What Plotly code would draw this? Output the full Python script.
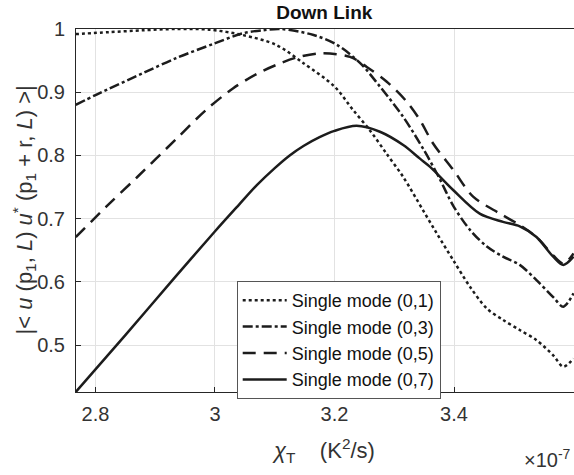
import plotly.graph_objects as go

# ---- data (x in units of 1e-7 K^2/s) ----
x01 = [2.767, 2.823, 2.88, 2.935, 2.99, 3.046, 3.102, 3.148, 3.2, 3.231, 3.259, 3.287, 3.315, 3.349,
       3.371, 3.399, 3.427, 3.455, 3.482, 3.510, 3.538, 3.566, 3.583, 3.600]
y01 = [0.992, 0.995, 0.998, 1.0, 0.999, 0.9905, 0.975, 0.946, 0.909, 0.872, 0.840, 0.803, 0.766, 0.712,
       0.677, 0.634, 0.592, 0.558, 0.540, 0.524, 0.508, 0.484, 0.466, 0.479]

x03 = [2.767, 2.801, 2.879, 2.935, 2.999, 3.046, 3.080, 3.11, 3.165, 3.204, 3.243, 3.276, 3.315, 3.35,
       3.375, 3.399, 3.427, 3.455, 3.482, 3.510, 3.538, 3.566, 3.583, 3.600]
y03 = [0.880, 0.896, 0.930, 0.954, 0.977, 0.993, 0.998, 1.0, 0.9905, 0.975, 0.946, 0.909, 0.861, 0.808,
       0.765, 0.720, 0.682, 0.656, 0.640, 0.627, 0.603, 0.576, 0.561, 0.582]

x05 = [2.767, 2.818, 2.87, 2.935, 2.985, 3.03, 3.07, 3.102, 3.137, 3.176, 3.226, 3.254, 3.287, 3.321,
       3.343, 3.365, 3.399, 3.432, 3.477, 3.510, 3.538, 3.566, 3.583, 3.600]
y05 = [0.671, 0.719, 0.766, 0.826, 0.872, 0.906, 0.929, 0.943, 0.955, 0.9615, 0.956, 0.940, 0.917, 0.885,
       0.856, 0.819, 0.777, 0.735, 0.708, 0.690, 0.671, 0.642, 0.629, 0.645]

x07 = [2.767, 2.85, 2.93, 2.999, 3.04, 3.07, 3.1, 3.125, 3.148, 3.175, 3.2, 3.237, 3.276, 3.315, 3.343,
       3.36, 3.399, 3.443, 3.482, 3.510, 3.538, 3.566, 3.583, 3.600]
y07 = [0.426, 0.516, 0.604, 0.679, 0.722, 0.753, 0.780, 0.800, 0.815, 0.829, 0.839, 0.847, 0.8375, 0.8165,
       0.795, 0.782, 0.745, 0.708, 0.695, 0.688, 0.671, 0.640, 0.627, 0.640]

names = ["Single mode (0,1)", "Single mode (0,3)", "Single mode (0,5)", "Single mode (0,7)"]
xs = [x01, x03, x05, x07]
ys = [y01, y03, y05, y07]
dashes = ["3px,3px", "10px,3px,3px,3px", "13px,8px", "solid"]

xticks = [2.8, 3.0, 3.2, 3.4]
xticktext = ["2.8", "3", "3.2", "3.4"]
yticks = [0.5, 0.6, 0.7, 0.8, 0.9, 1.0]
yticktext = ["0.5", "0.6", "0.7", "0.8", "0.9", "1"]

FONT = "Liberation Sans, Arial, sans-serif"
INK = "#262626"
LINE = "#1c1c1c"

fig = go.Figure()
for x, y, n, d in zip(xs, ys, names, dashes):
    fig.add_trace(go.Scatter(x=x, y=y, mode="lines", name=n,
                             line=dict(color=LINE, width=2.5, dash=d, shape="spline", smoothing=0.9)))

fig.update_layout(
    width=574, height=475,
    margin=dict(l=76, r=0, t=29, b=83),
    paper_bgcolor="white", plot_bgcolor="white",
    font=dict(family=FONT, color=INK),
    title=dict(text="<b>Down Link</b>", x=0.565, xanchor="center", y=1 - 12 / 475, yanchor="middle",
               font=dict(size=19, color="#111111", family=FONT)),
    showlegend=True,
    legend=dict(x=(236.7 - 76) / 498, y=(392 - 281) / 363, xanchor="left", yanchor="top",
                bgcolor="white", bordercolor="#555555", borderwidth=1,
                font=dict(size=18, color="#111111", family=FONT),
                itemwidth=44, tracegroupgap=0),
)

fig.update_xaxes(range=[2.7674, 3.6008], tickvals=xticks, ticktext=xticktext,
                 ticks="inside", ticklen=5, tickcolor=INK,
                 showline=True, linecolor=INK, linewidth=1, mirror=True,
                 showgrid=True, gridcolor="#e2e2e2", gridwidth=1, zeroline=False,
                 tickfont=dict(size=20, color="#333333", family=FONT), ticklabelstandoff=4)
fig.update_yaxes(range=[0.426, 1.0], tickvals=yticks, ticktext=yticktext,
                 ticks="inside", ticklen=5, tickcolor=INK,
                 showline=True, linecolor=INK, linewidth=1, mirror=False,
                 showgrid=True, gridcolor="#e2e2e2", gridwidth=1, zeroline=False,
                 tickfont=dict(size=20, color="#333333", family=FONT), ticklabelstandoff=6)

# y-axis label
fig.add_annotation(xref="paper", yref="paper", x=(24 - 76) / 498, y=0.5, xanchor="center", yanchor="middle",
                   textangle=-90, showarrow=False,
                   text="|< <i>u</i> (p<sub>1</sub>, <i>L</i>) <i>u</i><sup>*</sup> (p<sub>1</sub> + r, <i>L</i>) >|",
                   font=dict(size=22, color="#333333", family=FONT))
# x-axis label
fig.add_annotation(xref="paper", yref="paper", x=(323 - 76) / 498, y=-(450 - 392) / 363,
                   xanchor="center", yanchor="middle", showarrow=False,
                   text="<i>χ</i><sub>T</sub>\u00a0\u00a0\u00a0\u00a0(K<sup>2</sup>/s)",
                   font=dict(size=22, color="#333333", family=FONT))
# exponent
fig.add_annotation(xref="paper", yref="paper", x=0.998, y=-(458 - 392) / 363,
                   xanchor="right", yanchor="middle", showarrow=False,
                   text="×10<sup>-7</sup>",
                   font=dict(size=20, color="#333333", family=FONT))

fig.write_html("out.html")
